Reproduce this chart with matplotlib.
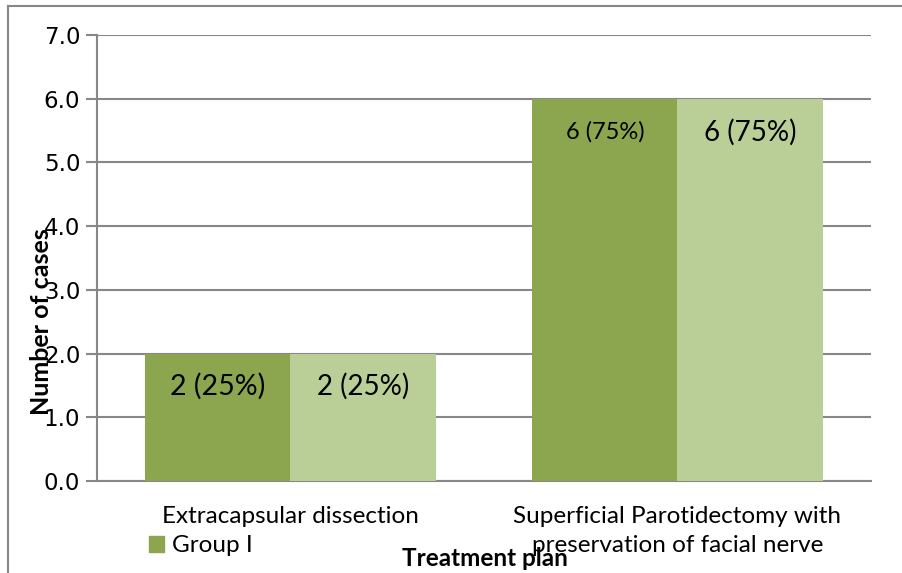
import matplotlib
matplotlib.use("Agg")
import matplotlib.pyplot as plt
from matplotlib.lines import Line2D
from matplotlib.patches import Patch
import numpy as np

# --- Data ---
categories = ["Extracapsular dissection",
              "Superficial Parotidectomy with\npreservation of facial nerve"]
group_i = [2, 6]
group_ii = [2, 6]
labels_i = ["2 (25%)", "6 (75%)"]
labels_ii = ["2 (25%)", "6 (75%)"]
yticks = [0, 1, 2, 3, 4, 5, 6, 7]

# --- Style ---
DARK = "#8BA64F"
LIGHT = "#BACF97"
GRID = "#878787"
CALIBRI = ["Lato", "DejaVu Sans"]
W, H = 903, 573

fig = plt.figure(figsize=(W / 100, H / 100), dpi=100)
ax = fig.add_axes([97 / W, 1 - 481 / H, (871 - 97) / W, (481 - 35) / H])

x = np.arange(len(categories))
bw = 0.375
ax.bar(x - bw / 2, group_i, bw, color=DARK, zorder=3)
ax.bar(x + bw / 2, group_ii, bw, color=LIGHT, zorder=3)

# data labels, a bit inside the bar end
label_sizes_i = [20.5, 17]
for xi, v, t, fs in zip(x, group_i, labels_i, label_sizes_i):
    ax.text(xi - bw / 2, v - 0.52, t, ha="center", va="center",
            fontsize=fs, family=CALIBRI, zorder=4)
for xi, v, t in zip(x, group_ii, labels_ii):
    ax.text(xi + bw / 2, v - 0.52, t, ha="center", va="center",
            fontsize=20, family=CALIBRI, zorder=4)

ax.set_xlim(-0.5, 1.5)
ax.set_ylim(0, 7)
ax.set_yticks(yticks)
ax.set_yticklabels([f"{v:.1f}" for v in yticks], fontsize=16.5)
ax.set_xticks(x)
ax.set_xticklabels(categories, fontsize=17.5, family=CALIBRI, linespacing=1.45)
ax.tick_params(axis="x", length=0, pad=18)
ax.tick_params(axis="y", length=8, width=1.5, color=GRID, pad=4)

ax.grid(axis="y", color=GRID, linewidth=1.5, zorder=0)
for s in ["top", "right"]:
    ax.spines[s].set_visible(False)
ax.spines["left"].set_color(GRID)
ax.spines["left"].set_linewidth(1.5)
ax.spines["bottom"].set_color(GRID)
ax.spines["bottom"].set_linewidth(1.5)

# axis titles (placed like the original)
fig.text(42 / W, 1 - 322 / H, "Number of cases", rotation=90, ha="center",
         va="center", fontsize=18, fontweight="bold", family=CALIBRI)
fig.text(485 / W, 1 - 558 / H, "Treatment plan", ha="center", va="center",
         fontsize=17.5, fontweight="bold", family=CALIBRI)

# legend (only the first entry is visible in the original)
fig.legend(handles=[Patch(color=DARK, label="Group I")],
           loc="center left", bbox_to_anchor=(149 / W, 1 - 546 / H),
           frameon=False, prop={"family": CALIBRI, "size": 17.5},
           handlelength=0.6, handleheight=0.6, handletextpad=0.35,
           borderpad=0, borderaxespad=0)

# chart border
fig.add_artist(Line2D([8 / W, 1], [1 - 6 / H, 1 - 6 / H], color=GRID, lw=1.5,
                      transform=fig.transFigure))
fig.add_artist(Line2D([8 / W, 8 / W], [0, 1 - 6 / H], color=GRID, lw=1.5,
                      transform=fig.transFigure))

fig.savefig("out.png", dpi=100)
